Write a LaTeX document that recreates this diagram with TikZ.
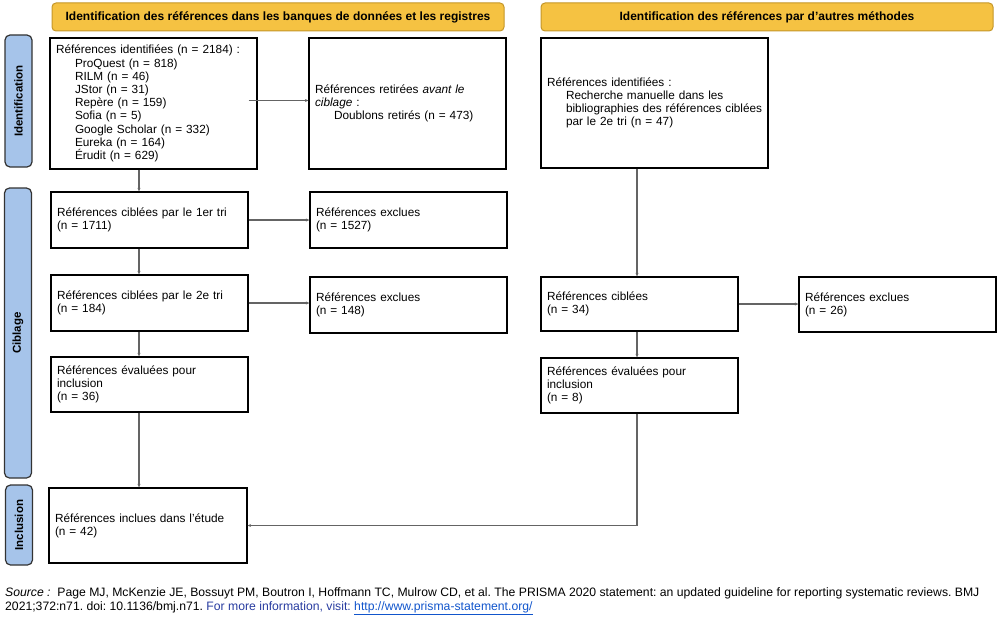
\documentclass[tikz,border=0pt]{standalone}
\usepackage{fontspec}
\setmainfont{Liberation Sans}
\frenchspacing
\usetikzlibrary{arrows.meta,positioning}
\definecolor{jaune}{RGB}{245,194,66}
\definecolor{jaunefonce}{RGB}{196,150,40}
\definecolor{bleuclair}{RGB}{166,196,234}
\definecolor{trait}{RGB}{100,100,100}
\definecolor{lienbleu}{RGB}{17,85,204}
\definecolor{textebleu}{RGB}{40,60,160}
\newcommand{\retrait}{\hspace*{19pt}}
\tikzset{
    %Define standard arrow tip
    >={Stealth[length=3.5pt,width=3pt]},
    %Define style for boxes
    boite/.style={
           rectangle,
           draw=black, line width=1.2pt,
           inner xsep=6pt,
           text width=#1,
           align=left,
           font=\fontsize{11.8}{13.2}\selectfont},
    boite/.default=185pt,
    bandeau/.style={
           rectangle,
           rounded corners=4pt,
           draw=jaunefonce, line width=1pt,
           fill=jaune,
           minimum width=452pt,
           minimum height=28pt,
           font=\bfseries\fontsize{12}{14}\selectfont},
    phase/.style={
           rectangle,
           rounded corners=5pt,
           draw=black!80, line width=1.2pt,
           fill=bleuclair,
           rotate=90,
           minimum height=27pt,
           font=\bfseries\fontsize{11.5}{13}\selectfont},
    source/.style={
           align=left,
           inner sep=0pt,
           font=\fontsize{12.2}{14.5}\selectfont},
    % Define arrow style
    fleche/.style={
           ->,
           draw=trait,
           line width=1.1pt}
}
\begin{document}
\begin{tikzpicture}[x=1pt,y=-1pt]
\useasboundingbox (0,0) rectangle (1000,618);
% bandeaux
\node[bandeau] (h1) at (278,17) {Identification des références dans les banques de données et les registres};
\node[bandeau] (h2) at (767,17) {Identification des références par d’autres méthodes};
% phases
\node[phase, minimum width=132pt] (p1) at (18.5,101) {Identification};
\node[phase, minimum width=290pt] (p2) at (18,333) {Ciblage};
\node[phase, minimum width=80pt] (p3) at (19,525) {Inclusion};
% colonne de gauche
\node[boite=195pt, minimum height=131pt] (A) at (153.5,103.5) {Références identifiées (n = 2184) :\\
  \retrait ProQuest (n = 818)\\
  \retrait RILM (n = 46)\\
  \retrait JStor (n = 31)\\
  \retrait Repère (n = 159)\\
  \retrait Sofia (n = 5)\\
  \retrait Google Scholar (n = 332)\\
  \retrait Eureka (n = 164)\\
  \retrait Érudit (n = 629)};
\node[boite, minimum height=131pt] (B) at (407.5,103.5) {Références retirées \emph{avant le}\\
  \emph{ciblage} :\\
  \retrait Doublons retirés (n = 473)};
\node[boite, minimum height=56pt] (D) at (149.5,220) {Références ciblées par le 1er tri\\ (n = 1711)};
\node[boite, minimum height=56pt] (E) at (408.5,220) {Références exclues\\ (n = 1527)};
\node[boite, minimum height=56pt] (F) at (149.5,303) {Références ciblées par le 2e tri\\ (n = 184)};
\node[boite, minimum height=56pt] (G) at (408.5,305) {Références exclues\\ (n = 148)};
\node[boite, minimum height=55pt] (H) at (149.5,384.5) {Références évaluées pour\\ inclusion\\ (n = 36)};
\node[boite=186pt, minimum height=75pt] (L) at (148,525.5) {Références inclues dans l’étude\\ (n = 42)};
% colonne de droite
\node[boite=215pt, minimum height=130pt] (C) at (654.5,103) {Références identifiées :\\
  \retrait Recherche manuelle dans les\\
  \retrait \mbox{bibliographies des références ciblées}\\
  \retrait par le 2e tri (n = 47)};
\node[boite, minimum height=54pt] (I) at (639.5,304) {Références ciblées\\ (n = 34)};
\node[boite, minimum height=55pt] (J) at (897.5,304.5) {Références exclues\\ (n = 26)};
\node[boite, minimum height=55pt] (K) at (639.5,385.5) {Références évaluées pour\\ inclusion\\ (n = 8)};
% liens
\coordinate (gauche) at (139,0);
\coordinate (droite) at (637,0);
\draw[fleche] (A.south -| gauche) -- (D.north -| gauche);
\draw[fleche] ([xshift=-9pt,yshift=3pt]A.east) -- ([yshift=3pt]B.west);
\draw[fleche] (D.east) -- (E.west);
\draw[fleche] (D.south -| gauche) -- (F.north -| gauche);
\draw[fleche] (F.east) -- (F.east -| G.west);
\draw[fleche] (F.south -| gauche) -- (H.north -| gauche);
\draw[fleche] (H.south -| gauche) -- (L.north -| gauche);
\draw[fleche] (C.south -| droite) -- (I.north -| droite);
\draw[fleche] (I.east) -- (I.east -| J.west);
\draw[fleche] (I.south -| droite) -- (K.north -| droite);
\draw[fleche] (K.south -| droite) |- (L.east);
% source
\node[source, anchor=north west] (src) at (5,587) {\textit{Source :}\ \ Page MJ, McKenzie JE, Bossuyt PM, Boutron I, Hoffmann TC, Mulrow CD, et al. The PRISMA 2020 statement: an updated guideline for reporting systematic reviews. BMJ\\
  2021;372:n71. doi: 10.1136/bmj.n71. {\color{textebleu}For more information, visit:} {\color{lienbleu}\underline{http://www.prisma-statement.org/}}};
\end{tikzpicture}
\end{document}
